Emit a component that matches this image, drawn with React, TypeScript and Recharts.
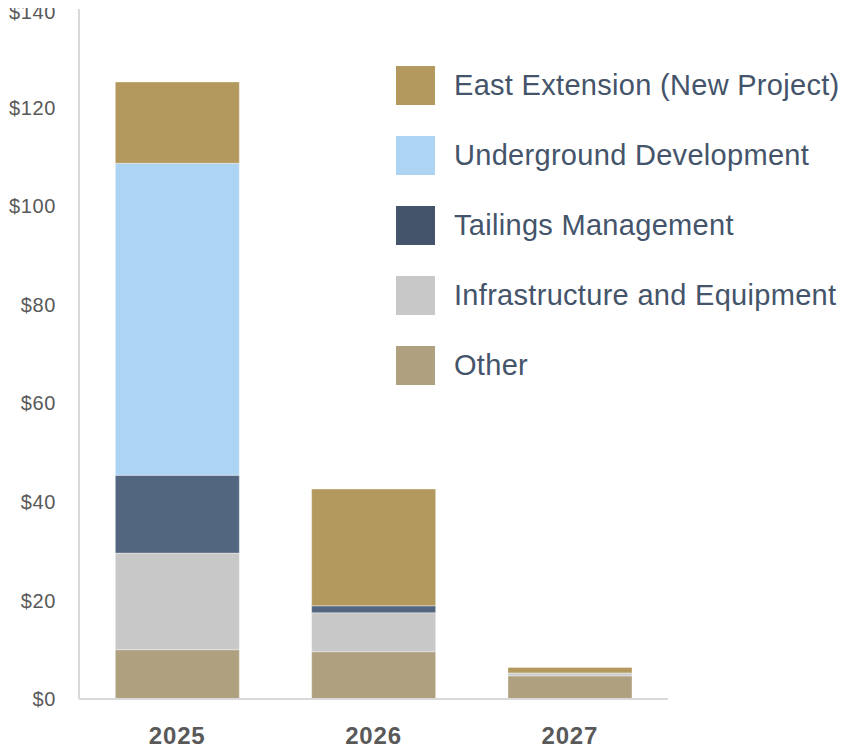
import { Bar, BarChart, XAxis, YAxis } from "recharts"

const years = ["2025", "2026", "2027"]
const other = [10.0, 9.6, 4.7]
const infrastructure = [19.6, 7.9, 0.5]
const tailings = [15.8, 1.4, 0.1]
const underground = [63.3, 0, 0]
const eastExtension = [16.5, 23.7, 1.1]
const yTicks = [0, 20, 40, 60, 80, 100, 120, 140]

const data = years.map((year, i) => ({
  year,
  other: other[i],
  infrastructure: infrastructure[i],
  tailings: tailings[i],
  underground: underground[i],
  eastExtension: eastExtension[i],
}))

const series = [
  { key: "eastExtension", name: "East Extension (New Project)", fill: "#B3995D", legend: "#B3995D" },
  { key: "underground", name: "Underground Development", fill: "#AED4F3", legend: "#AED4F3" },
  { key: "tailings", name: "Tailings Management", fill: "#536680", legend: "#44546A" },
  { key: "infrastructure", name: "Infrastructure and Equipment", fill: "#C8C8C8", legend: "#C8C8C8" },
  { key: "other", name: "Other", fill: "#AFA080", legend: "#AFA080" },
]

const font = '"Liberation Sans", Arial, sans-serif'

function LegendBox() {
  return (
    <div style={{ position: "absolute", left: 396, top: 50 }}>
      {series.map((s) => (
        <div key={s.key} style={{ display: "flex", alignItems: "center", height: 70.2 }}>
          <div style={{ width: 39, height: 39, background: s.legend, marginRight: 19 }} />
          <span
            style={{ fontFamily: font, fontSize: 29, letterSpacing: 0.3, color: "#44546A", whiteSpace: "nowrap" }}
          >
            {s.name}
          </span>
        </div>
      ))}
    </div>
  )
}

export default function App() {
  const stackOrder = [...series].reverse()
  return (
    <div style={{ marginLeft: -8, marginTop: -8, position: "relative", width: 858, height: 749 }}>
      <BarChart
        width={858}
        height={749}
        data={data}
        margin={{ top: 9, right: 190, bottom: 0, left: 0 }}
        barCategoryGap="18.5%"
      >
        <XAxis
          dataKey="year"
          height={50}
          axisLine={{ stroke: "#D9D9D9", strokeWidth: 2 }}
          tickLine={false}
          tickSize={0}
          tickMargin={28}
          tick={{ fill: "#595959", fontSize: 24, fontWeight: "bold", fontFamily: font, letterSpacing: 0.8 }}
        />
        <YAxis
          width={79}
          domain={[0, 140]}
          ticks={yTicks}
          axisLine={{ stroke: "#D9D9D9", strokeWidth: 2 }}
          tickLine={false}
          tickSize={0}
          tickMargin={23}
          tickFormatter={(v) => `$${v}`}
          tick={{ fill: "#595959", fontSize: 20, fontFamily: font, letterSpacing: 0.6 }}
        />
        {stackOrder.map((s) => (
          <Bar
            key={s.key}
            dataKey={s.key}
            name={s.name}
            stackId="a"
            fill={s.fill}
            stroke="#ffffff"
            strokeOpacity={0.35}
            strokeWidth={1}
            isAnimationActive={false}
          />
        ))}
      </BarChart>
      <LegendBox />
    </div>
  )
}
